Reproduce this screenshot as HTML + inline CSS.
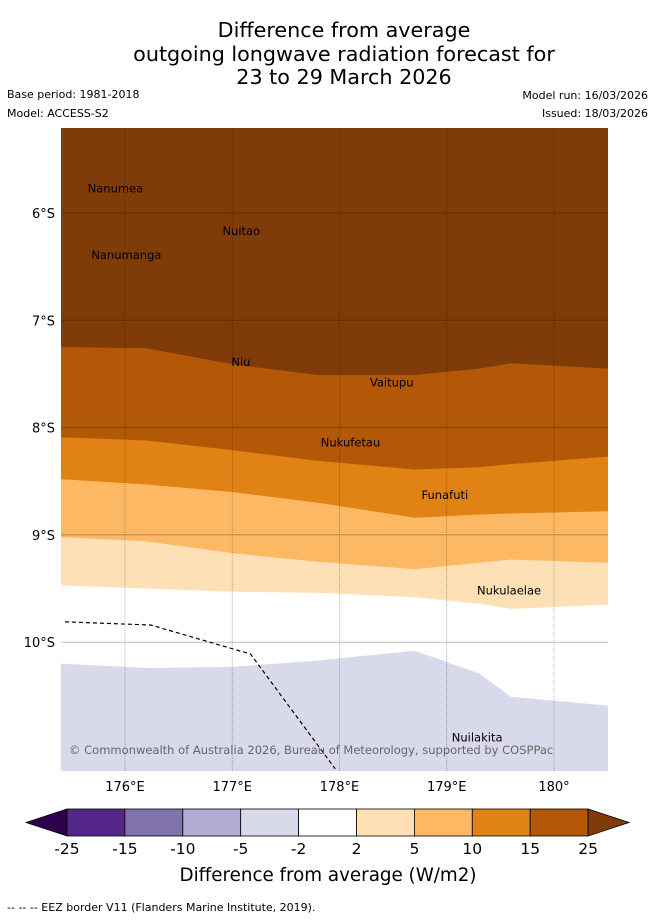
<!DOCTYPE html>
<html><head><meta charset="utf-8">
<style>
body{margin:0;background:#fff;font-family:"DejaVu Sans",sans-serif;}
svg text{font-family:"DejaVu Sans",sans-serif;}
</style></head>
<body>
<svg id="chart" width="655" height="919" viewBox="0 0 655 919" xmlns="http://www.w3.org/2000/svg">
<text x="344" y="37" font-size="20.7" text-anchor="middle">Difference from average</text>
<text x="344" y="61" font-size="20.7" text-anchor="middle">outgoing longwave radiation forecast for</text>
<text x="344" y="84" font-size="20.7" text-anchor="middle">23 to 29 March 2026</text>
<text x="7" y="98" font-size="11">Base period: 1981-2018</text>
<text x="7" y="117" font-size="11">Model: ACCESS-S2</text>
<text x="648" y="99" font-size="11" text-anchor="end">Model run: 16/03/2026</text>
<text x="648" y="117" font-size="11" text-anchor="end">Issued: 18/03/2026</text>
<defs><clipPath id="mapclip"><rect x="61" y="128" width="547" height="643"/></clipPath></defs>
<g id="map" clip-path="url(#mapclip)"></g>
<g id="axes"></g>
<g id="cbar"></g>
<text x="328" y="881" font-size="18.3" text-anchor="middle">Difference from average (W/m2)</text>
<text x="7" y="911" font-size="11">-- -- -- EEZ border V11 (Flanders Marine Institute, 2019).</text>
</svg>
<script>
const lonGrid=[175.4,176.2,177.0,177.8,178.7,179.3,179.6,180.5];
const boundary25=[7.25,7.26,7.41,7.51,7.51,7.45,7.40,7.45];
const boundary15=[8.09,8.12,8.21,8.31,8.39,8.37,8.34,8.27];
const boundary10=[8.48,8.53,8.60,8.70,8.84,8.81,8.80,8.78];
const boundary5=[9.02,9.06,9.17,9.25,9.32,9.26,9.23,9.26];
const boundary2=[9.47,9.50,9.53,9.54,9.58,9.64,9.69,9.65];
const boundaryNeg2=[10.20,10.24,10.23,10.17,10.08,10.29,10.51,10.59];
const latTicks=[6,7,8,9,10];
const lonTicks=[176,177,178,179,180];
const cbLevels=["-25","-15","-10","-5","-2","2","5","10","15","25"];
const cbColors=["#542788","#8073ac","#b2abd2","#d8daeb","#ffffff","#fee0b6","#fdb863","#e08214","#b35806"];
const islandNames=["Nanumea","Nuitao","Nanumanga","Niu","Vaitupu","Nukufetau","Funafuti","Nukulaelae","Nuilakita"];
const islandLon=[176.17,177.26,176.34,177.17,178.69,178.38,179.2,179.88,179.52];
const islandLat=[5.77,6.17,6.39,7.39,7.58,8.14,8.63,9.52,10.89];
const eezLon=[175.44,176.24,177.17,177.96];
const eezLat=[9.81,9.84,10.11,11.18];

const NS="http://www.w3.org/2000/svg";
const X=lon=>125+(lon-176)*107.25;
const Y=lat=>213+(lat-6)*107.3;
function mk(t,a,p){const e=document.createElementNS(NS,t);for(const k in a)e.setAttribute(k,a[k]);p.appendChild(e);return e;}
const map=document.getElementById('map');
const bounds=[boundary25,boundary15,boundary10,boundary5,boundary2,boundaryNeg2];
const fills=["#b35806","#e08214","#fdb863","#fee0b6","#ffffff","#d8daeb"];
const bg=mk('rect',{x:61,y:128,width:547,height:643,fill:'#7f3b08'},map);


bounds.forEach((b,i)=>{
  let d='M'+(X(lonGrid[0])-5)+','+Y(b[0]);
  lonGrid.forEach((l,j)=>{d+=' L'+X(l)+','+Y(b[j]);});
  d+=' L'+(X(lonGrid[lonGrid.length-1])+5)+','+Y(b[b.length-1])+' L613,780 L56,780 Z';
  const p=mk('path',{d:d,fill:fills[i]},map);
  
  
});
latTicks.forEach(t=>{
  const g=mk('line',{x1:61,x2:608,y1:Y(t),y2:Y(t),stroke:'#000','stroke-opacity':0.25,'stroke-width':1},map);
  
  
});
lonTicks.forEach(t=>{
  const g=mk('line',{x1:X(t),x2:X(t),y1:128,y2:771,stroke:'#000','stroke-opacity':0.35,'stroke-width':0.8,'stroke-dasharray':'1,1'},map);
  
  
});
let ed='';eezLon.forEach((l,i)=>{ed+=(i?' L':'M')+X(l)+','+Y(eezLat[i]);});
const eez=mk('path',{d:ed,fill:'none',stroke:'#000','stroke-width':1.2,'stroke-dasharray':'4,3'},map);


islandNames.forEach((n,i)=>{
  const t=mk('text',{x:X(islandLon[i]),y:Y(islandLat[i])+4,'font-size':11.5,'text-anchor':'end'},map);
  t.textContent=n;
  
  
});
const cr=mk('text',{x:69,y:754,'font-size':11.5,fill:'#666'},map);
cr.textContent='© Commonwealth of Australia 2026, Bureau of Meteorology, supported by COSPPac';


const ax=document.getElementById('axes');
latTicks.forEach(t=>{
  const e=mk('text',{x:55,y:Y(t)+5,'font-size':13,'text-anchor':'end'},ax);
  e.textContent=t+'°S';
  
  
});
lonTicks.forEach(t=>{
  const e=mk('text',{x:X(t),y:791,'font-size':13,'text-anchor':'middle'},ax);
  e.textContent=t+'°'+(t===180?'':'E');
  
  
});
const cb=document.getElementById('cbar');
const cx0=67,cw=57.9,cy=809,ch=27;
const la=mk('path',{d:`M${cx0},${cy} L26,${cy+ch/2} L${cx0},${cy+ch} Z`,fill:'#2d004b',stroke:'#000','stroke-width':0.8},cb);


cbColors.forEach((c,i)=>{
  const r=mk('rect',{x:cx0+i*cw,y:cy,width:cw,height:ch,fill:c,stroke:'#000','stroke-width':0.8},cb);
  
  
});
const xe=cx0+cbColors.length*cw;
const ra=mk('path',{d:`M${xe},${cy} L629,${cy+ch/2} L${xe},${cy+ch} Z`,fill:'#7f3b08',stroke:'#000','stroke-width':0.8},cb);


cbLevels.forEach((l,i)=>{
  const t=mk('text',{x:cx0+i*cw,y:854,'font-size':15.5,'text-anchor':'middle'},cb);
  t.textContent=l;
  
  
});
</script>
</body></html>
